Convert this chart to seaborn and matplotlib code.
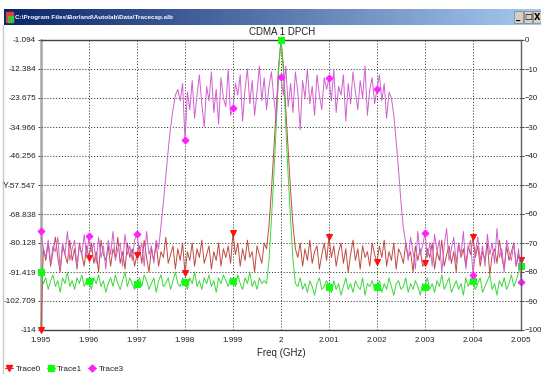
import numpy as np
import pandas as pd
import matplotlib
matplotlib.use("Agg")
import matplotlib.pyplot as plt
import seaborn as sns
from matplotlib.lines import Line2D
from matplotlib.patches import Rectangle
from matplotlib.colors import LinearSegmentedColormap

# ---------------- data ----------------
freq_start = 1.995
freq_step = 0.00005
n_points = 201

trace0 = [
    -100, -72, -76, -70, -78, -73, -68, -75, -80, -71, -74, -77, -69, -76, -72, -79, -70, -74, -78, -71,
    -75, -70, -77, -73, -80, -69, -74, -76, -71, -78, -72, -75, -68, -77, -73, -79, -70, -75, -72, -78,
    -74, -71, -77, -69, -75, -80, -72, -76, -70, -78, -73, -75, -68, -77, -74, -71, -79, -72, -76, -70,
    -80.5, -73, -76, -70, -78, -72, -75, -69, -77, -74, -71, -79, -73, -76, -70, -78, -72, -75, -71, -77,
    -66.5, -74, -70, -78, -72, -76, -69, -75, -73, -80, -71, -74, -77, -70, -72, -64, -52, -38, -24, -9,
    0, -9, -24, -38, -52, -64, -72, -75, -70, -78, -72, -76, -69, -77, -73, -71, -79, -74, -70, -76,
    -68, -75, -71, -78, -73, -70, -77, -72, -80, -74, -69, -76, -72, -79, -71, -75, -73, -78, -70, -74,
    -76.5, -71, -75, -69, -78, -73, -76, -70, -79, -72, -74, -77, -70, -75, -73, -80, -71, -76, -72, -78,
    -77, -72, -75, -70, -79, -73, -76, -69, -78, -74, -71, -77, -73, -80, -70, -75, -72, -78, -71, -74,
    -68, -75, -71, -78, -73, -76, -70, -81, -74, -72, -77, -69, -75, -79, -71, -76, -73, -70, -78, -74,
    -76,
]

trace1 = [
    -80, -84, -82, -86, -83, -81, -85, -83, -87, -82, -84, -80, -85, -83, -86, -82, -84, -81, -85, -83,
    -83, -86, -82, -84, -81, -85, -83, -87, -84, -82, -85, -81, -84, -86, -83, -80, -85, -82, -84, -86,
    -84, -82, -85, -81, -83, -86, -84, -82, -87, -83, -81, -85, -84, -82, -86, -83, -80, -84, -85, -82,
    -83.5, -86, -82, -84, -80, -85, -83, -86, -82, -84, -81, -85, -83, -87, -82, -84, -81, -83, -85, -82,
    -83, -85, -81, -84, -86, -82, -84, -80, -85, -83, -86, -82, -84, -83, -84, -76, -62, -47, -30, -11,
    0, -11, -30, -47, -62, -76, -84, -85, -82, -86, -84, -87, -83, -85, -88, -84, -82, -86, -85, -83,
    -85, -87, -83, -86, -84, -88, -85, -82, -86, -84, -87, -83, -85, -86, -82, -88, -84, -85, -83, -86,
    -85, -83, -87, -84, -86, -82, -85, -88, -84, -83, -86, -85, -82, -87, -84, -86, -83, -85, -88, -84,
    -85, -82, -86, -84, -87, -83, -85, -81, -86, -84, -82, -87, -85, -83, -86, -84, -88, -82, -85, -83,
    -83, -86, -84, -82, -87, -85, -83, -81, -86, -84, -88, -83, -85, -82, -86, -84, -81, -85, -83, -80,
    -78,
]

trace3 = [
    -66, -72, -75, -69, -77, -71, -73, -68, -79, -70, -74, -66, -76, -72, -69, -78, -71, -74, -67, -75,
    -67.6, -73, -70, -77, -68, -75, -71, -79, -69, -74, -66, -76, -72, -70, -78, -67, -74, -71, -76, -69,
    -67, -73, -70, -78, -66, -74, -71, -77, -69, -72, -64, -56, -47, -38, -30, -24, -19, -17, -21, -15,
    -34.5, -18, -24, -14, -27, -19, -12, -22, -30, -16, -21, -11, -25, -17, -29, -13, -20, -23, -10, -26,
    -23.5, -15, -19, -12, -28, -17, -10, -22, -14, -26, -18, -9, -21, -13, -24, -16, -11, -20, -27, -12,
    -12.8, -19, -9, -23, -15, -25, -11, -18, -31, -14, -20, -10, -22, -16, -26, -12, -19, -24, -13, -17,
    -13, -21, -10, -25, -16, -19, -12, -28, -15, -22, -11, -18, -24, -14, -20, -9, -26, -17, -13, -22,
    -17, -12, -21, -15, -27, -18, -20, -26, -35, -45, -56, -65, -70, -76, -68, -73, -79, -66, -74, -71,
    -66.5, -75, -70, -78, -67, -73, -69, -80, -71, -65, -76, -72, -68, -77, -70, -74, -66, -79, -72, -69,
    -81, -73, -68, -76, -71, -78, -67, -74, -70, -77, -65, -75, -72, -80, -69, -73, -76, -70, -78, -72,
    -83.5,
]

x_ticks = [1.995, 1.996, 1.997, 1.998, 1.999, 2.0, 2.001, 2.002, 2.003, 2.004, 2.005]
x_tick_labels = ["1.995", "1.996", "1.997", "1.998", "1.999", "2",
                 "2.001", "2.002", "2.003", "2.004", "2.005"]
left_tick_labels = ["-1.094", "-12.384", "-23.675", "-34.966", "-46.256", "-57.547",
                    "-68.838", "-80.128", "-91.419", "-102.709", "-114"]
right_ticks = [0, -10, -20, -30, -40, -50, -60, -70, -80, -90, -100]
trace_names = ["Trace0", "Trace1", "Trace3"]

assert len(trace0) == n_points and len(trace1) == n_points and len(trace3) == n_points

freq = np.round(freq_start + freq_step * np.arange(n_points), 6)
df = pd.DataFrame({"freq": freq, "Trace0": trace0, "Trace1": trace1, "Trace3": trace3})

# ---------------- style ----------------
sns.set_style("white")
plt.rcParams['font.family'] = ['Liberation Sans', 'DejaVu Sans']
plt.rcParams['text.color'] = '#222222'
plt.rcParams['xtick.color'] = '#222222'
plt.rcParams['ytick.color'] = '#222222'
tick_fs = 5.9

W, H = 541, 374
fig = plt.figure(figsize=(W / 100, H / 100), dpi=100)
fig.patch.set_facecolor('white')


def box(l, t, r, b):
    return [l / W, 1 - b / H, (r - l) / W, (b - t) / H]


ax = fig.add_axes(box(41, 40, 521, 330))
ax2 = ax.twinx()

styles = {
    "Trace0": dict(color='#bf4a40', marker='v', mfc='#ff1010', mec='#ff1010', ms=4.5),
    "Trace1": dict(color='#3ad83a', marker='s', mfc='#10ff10', mec='#10ff10', ms=4.5),
    "Trace3": dict(color='#d060d0', marker='D', mfc='#ff20ff', mec='#ff20ff', ms=3.5),
}
for name in trace_names:
    st = styles[name]
    sns.lineplot(data=df, x="freq", y=name, ax=ax2, estimator=None, sort=False,
                 color=st["color"], lw=0.7, marker=st["marker"], markevery=20,
                 markersize=st["ms"], markerfacecolor=st["mfc"], markeredgecolor=st["mec"],
                 clip_on=False)

# axes limits / ticks
ax.set_xlim(x_ticks[0], x_ticks[-1])
ax.set_xticks(x_ticks)
ax.set_xticklabels(x_tick_labels)
left_vals = [float(s) for s in left_tick_labels]
ax.set_ylim(left_vals[-1], left_vals[0])
ax.set_yticks(left_vals)
ax.set_yticklabels(left_tick_labels)
ax2.set_ylim(right_ticks[-1], right_ticks[0])
ax2.set_yticks(right_ticks)
ax2.set_ylabel("")
ax2.set_xlabel("")

ax.grid(axis='x', ls=(0, (1.2, 1.8)), color='#444444', lw=0.7)
ax2.grid(axis='y', ls=(0, (1.2, 1.8)), color='#444444', lw=0.7)

ax.tick_params(axis='y', direction='out', length=2.5, width=0.6, labelsize=tick_fs, pad=1)
ax.tick_params(axis='x', length=0, labelsize=tick_fs, pad=5)
ax2.tick_params(axis='y', direction='out', length=2, width=0.6, labelsize=5.6, pad=0.4)

for s in ax2.spines.values():
    s.set_visible(False)
ax2.spines['right'].set_visible(True)
ax2.spines['right'].set_color('#606060')
ax2.spines['right'].set_linewidth(1.0)
ax.spines['right'].set_visible(False)
ax.spines['left'].set_color('#a8a8a8')
ax.spines['left'].set_linewidth(1.8)
ax.spines['top'].set_color('#404040')
ax.spines['top'].set_linewidth(1.0)
ax.spines['bottom'].set_color('#404040')
ax.spines['bottom'].set_linewidth(1.0)

ax.set_xlabel("Freq (GHz)", fontsize=7, labelpad=3)
ax.set_ylabel("")
fig.text(282 / W, 1 - 32 / H, "CDMA 1 DPCH", ha='center', va='center', fontsize=7)
fig.text(6 / W, 1 - 186 / H, "Y", ha='center', va='center', fontsize=6.3)

# legend
handles = [Line2D([], [], color=styles[n]["color"], lw=0.8, marker=styles[n]["marker"],
                  ms=styles[n]["ms"], mfc=styles[n]["mfc"], mec=styles[n]["mec"])
           for n in trace_names]
fig.legend(handles, trace_names, loc='lower left', bbox_to_anchor=(5 / W, 1 - 373 / H),
           ncol=3, frameon=False, fontsize=tick_fs, handlelength=1.0, handletextpad=0.3,
           columnspacing=0.7, borderpad=0, borderaxespad=0)

# window chrome: title bar
tb = fig.add_axes(box(4, 9, 541, 25))
grad = np.linspace(0, 1, 256).reshape(1, -1)
cmap = LinearSegmentedColormap.from_list("tb", ['#0a246a', '#a6caf0'])
tb.imshow(grad, aspect='auto', cmap=cmap, extent=[0, 1, 0, 1])
tb.set_xlim(0, 1)
tb.set_ylim(0, 1)
tb.axis('off')
tb.add_patch(Rectangle((0.004, 0.2), 0.012, 0.6, color='#e04040', transform=tb.transAxes))
tb.add_patch(Rectangle((0.008, 0.2), 0.008, 0.35, color='#40c040', transform=tb.transAxes))
tb.text(0.02, 0.5, r"C:\Program Files\Borland\Autolab\Data\Tracecap.alb", color='white',
        fontsize=4.6, weight='bold', va='center', ha='left', transform=tb.transAxes)
btn_glyphs = ["_", "□", "X"]
for i, g in enumerate(btn_glyphs):
    l = 514 + i * 9.5
    fig.add_artist(Rectangle((l / W, 1 - 23 / H), 8.5 / W, 12 / H, facecolor='#d4d0c8',
                             edgecolor='#808080', lw=0.5, transform=fig.transFigure))
    fig.text((l + 4.25) / W, 1 - 17 / H, g, ha='center', va='center', fontsize=6,
             weight='bold', color='black', family=['DejaVu Sans'])

fig.add_artist(Line2D([3 / W, 3 / W], [0, 1 - 25 / H], color='#c8c8c8', lw=1.0,
                      transform=fig.transFigure))

fig.savefig("out.png", dpi=100, facecolor='white')
